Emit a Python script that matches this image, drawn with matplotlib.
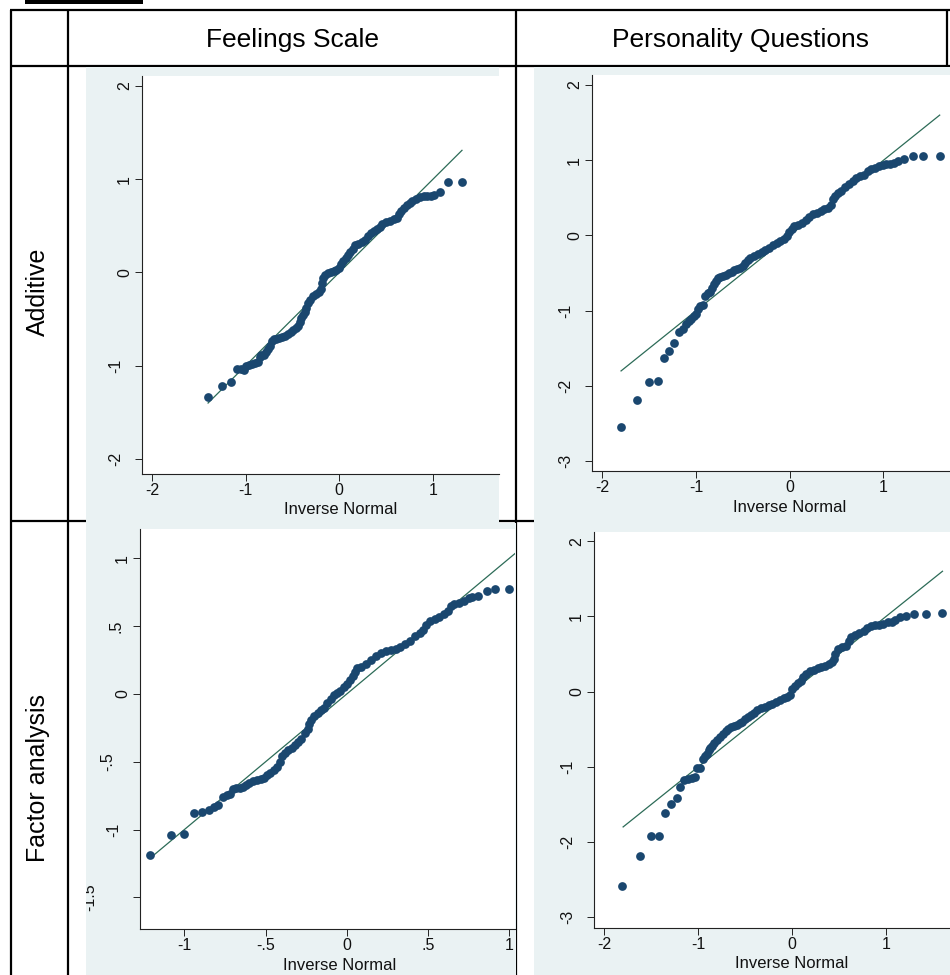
import numpy as np
import matplotlib.pyplot as plt
from matplotlib.patches import Rectangle

plt.rcParams['font.family'] = ['Liberation Sans', 'DejaVu Sans']

W, H = 950, 975
BG = '#EAF2F3'
NAVY = '#1A476F'
FIT = '#2C6B57'
AXC = '#222222'

#%% Data
col_titles = ["Feelings Scale", "Personality Questions"]
row_titles = ["Additive", "Factor analysis"]

# Additive / Feelings Scale (inverse normal vs. score)
add_feel_x = [-1.40, -1.25, -1.15, -1.09, -1.05, -1.02, -0.99, -0.96, -0.93, -0.90, -0.87, -0.85, -0.83,
              -0.80, -0.78, -0.76, -0.74, -0.72, -0.70, -0.67, -0.64, -0.61, -0.58, -0.55, -0.52, -0.49,
              -0.46, -0.44, -0.42, -0.41, -0.39, -0.37, -0.35, -0.33, -0.31, -0.28, -0.25, -0.22, -0.20,
              -0.18, -0.17, -0.15, -0.12, -0.09, -0.06, -0.03, 0.00, 0.02, 0.04, 0.07, 0.09, 0.12, 0.15,
              0.17, 0.20, 0.24, 0.28, 0.31, 0.34, 0.37, 0.40, 0.43, 0.46, 0.50, 0.54, 0.58, 0.62, 0.64,
              0.66, 0.69, 0.72, 0.75, 0.78, 0.82, 0.86, 0.90, 0.94, 0.98, 1.01, 1.07, 1.16, 1.31]
add_feel_y = [-1.34, -1.22, -1.175, -1.04, -1.04, -1.05, -1.00, -0.99, -0.98, -0.975, -0.96, -0.91, -0.89,
              -0.88, -0.85, -0.82, -0.79, -0.73, -0.71, -0.71, -0.70, -0.69, -0.68, -0.66, -0.64, -0.62,
              -0.60, -0.57, -0.53, -0.49, -0.46, -0.42, -0.38, -0.33, -0.29, -0.25, -0.23, -0.21, -0.18,
              -0.11, -0.06, -0.03, -0.01, 0.00, 0.02, 0.03, 0.05, 0.09, 0.12, 0.16, 0.19, 0.22, 0.25,
              0.29, 0.31, 0.33, 0.35, 0.39, 0.42, 0.45, 0.47, 0.49, 0.52, 0.54, 0.55, 0.57, 0.58, 0.63,
              0.66, 0.69, 0.72, 0.75, 0.77, 0.79, 0.81, 0.815, 0.82, 0.825, 0.83, 0.86, 0.97, 0.975]
add_feel_fit = [-1.40, 1.31]

# Additive / Personality Questions
add_pers_x = [-1.80, -1.63, -1.50, -1.41, -1.34, -1.29, -1.23, -1.18, -1.14, -1.11, -1.08, -1.05, -1.02,
              -1.00, -0.98, -0.96, -0.93, -0.90, -0.87, -0.85, -0.83, -0.81, -0.79, -0.77, -0.74, -0.71,
              -0.68, -0.65, -0.62, -0.59, -0.56, -0.53, -0.50, -0.48, -0.45, -0.42, -0.38, -0.34, -0.30,
              -0.26, -0.22, -0.18, -0.14, -0.10, -0.06, -0.03, -0.01, 0.02, 0.05, 0.09, 0.13, 0.17, 0.21,
              0.25, 0.29, 0.33, 0.37, 0.41, 0.44, 0.46, 0.48, 0.51, 0.55, 0.59, 0.63, 0.67, 0.71, 0.75,
              0.79, 0.83, 0.87, 0.91, 0.95, 0.99, 1.03, 1.07, 1.11, 1.15, 1.22, 1.31, 1.42, 1.60]
add_pers_y = [-2.55, -2.18, -1.95, -1.93, -1.63, -1.53, -1.43, -1.28, -1.24, -1.17, -1.13, -1.11, -1.07,
              -1.04, -0.98, -0.94, -0.92, -0.80, -0.77, -0.75, -0.70, -0.65, -0.60, -0.57, -0.55, -0.54,
              -0.52, -0.50, -0.48, -0.46, -0.44, -0.43, -0.40, -0.36, -0.33, -0.30, -0.27, -0.25, -0.22,
              -0.19, -0.16, -0.13, -0.10, -0.07, -0.04, -0.01, 0.04, 0.08, 0.12, 0.14, 0.16, 0.21, 0.25,
              0.28, 0.30, 0.32, 0.35, 0.37, 0.40, 0.48, 0.53, 0.56, 0.59, 0.64, 0.69, 0.73, 0.77, 0.79,
              0.80, 0.86, 0.88, 0.90, 0.92, 0.935, 0.945, 0.955, 0.97, 0.99, 1.015, 1.05, 1.05, 1.06]
add_pers_fit = [-1.80, 1.60]

# Factor analysis / Feelings Scale
fac_feel_x = [-1.21, -1.08, -1.00, -0.94, -0.89, -0.85, -0.82, -0.79, -0.76, -0.74, -0.72, -0.70, -0.68,
              -0.66, -0.64, -0.62, -0.60, -0.58, -0.55, -0.53, -0.51, -0.49, -0.47, -0.45, -0.43, -0.41,
              -0.40, -0.38, -0.36, -0.34, -0.32, -0.30, -0.28, -0.26, -0.24, -0.23, -0.22, -0.20, -0.18,
              -0.16, -0.14, -0.12, -0.10, -0.08, -0.06, -0.04, -0.02, 0.00, 0.02, 0.04, 0.05, 0.06, 0.09,
              0.12, 0.15, 0.18, 0.21, 0.24, 0.27, 0.30, 0.33, 0.36, 0.39, 0.42, 0.45, 0.47, 0.49, 0.51,
              0.54, 0.57, 0.60, 0.62, 0.64, 0.66, 0.69, 0.72, 0.75, 0.77, 0.81, 0.86, 0.91, 1.00]
fac_feel_y = [-1.19, -1.04, -1.03, -0.88, -0.87, -0.855, -0.83, -0.82, -0.76, -0.745, -0.735, -0.70, -0.695,
              -0.69, -0.685, -0.67, -0.658, -0.645, -0.634, -0.627, -0.62, -0.60, -0.585, -0.56, -0.535, -0.50,
              -0.46, -0.435, -0.415, -0.395, -0.376, -0.355, -0.335, -0.29, -0.26, -0.22, -0.19, -0.16, -0.14,
              -0.12, -0.10, -0.07, -0.04, -0.01, 0.01, 0.025, 0.05, 0.07, 0.10, 0.13, 0.16, 0.19, 0.20,
              0.22, 0.25, 0.28, 0.30, 0.315, 0.324, 0.33, 0.345, 0.365, 0.39, 0.425, 0.45, 0.47, 0.51, 0.535,
              0.55, 0.57, 0.59, 0.61, 0.645, 0.66, 0.67, 0.685, 0.705, 0.715, 0.72, 0.76, 0.77, 0.776]
fac_feel_fit = [-1.21, 1.30]

# Factor analysis / Personality Questions
fac_pers_x = [-1.81, -1.62, -1.50, -1.42, -1.35, -1.29, -1.23, -1.19, -1.15, -1.11, -1.07, -1.04, -1.01,
              -0.98, -0.95, -0.93, -0.91, -0.89, -0.87, -0.85, -0.83, -0.80, -0.77, -0.74, -0.71, -0.68,
              -0.65, -0.62, -0.59, -0.56, -0.53, -0.50, -0.47, -0.44, -0.41, -0.37, -0.33, -0.29, -0.25,
              -0.21, -0.17, -0.13, -0.09, -0.05, -0.02, 0.00, 0.03, 0.06, 0.09, 0.12, 0.15, 0.19, 0.23,
              0.27, 0.31, 0.35, 0.39, 0.42, 0.44, 0.46, 0.49, 0.53, 0.57, 0.60, 0.63, 0.67, 0.71, 0.76,
              0.80, 0.84, 0.88, 0.92, 0.97, 1.02, 1.06, 1.09, 1.15, 1.21, 1.30, 1.42, 1.60]
fac_pers_y = [-2.59, -2.18, -1.92, -1.92, -1.61, -1.50, -1.42, -1.27, -1.18, -1.16, -1.15, -1.13, -1.02,
              -1.01, -0.90, -0.86, -0.83, -0.78, -0.75, -0.72, -0.68, -0.64, -0.60, -0.56, -0.53, -0.50,
              -0.47, -0.46, -0.44, -0.42, -0.40, -0.37, -0.34, -0.31, -0.29, -0.25, -0.22, -0.20, -0.18,
              -0.16, -0.14, -0.11, -0.09, -0.07, -0.05, 0.04, 0.08, 0.11, 0.14, 0.20, 0.24, 0.27, 0.29,
              0.31, 0.33, 0.34, 0.37, 0.39, 0.43, 0.50, 0.56, 0.59, 0.61, 0.67, 0.72, 0.75, 0.78, 0.81,
              0.84, 0.87, 0.88, 0.89, 0.90, 0.92, 0.93, 0.95, 0.99, 1.01, 1.03, 1.03, 1.04]
fac_pers_fit = [-1.80, 1.60]

# tick values and labels
ticks_int_x = [-2, -1, 0, 1]
ticks_int_x_lbl = ["-2", "-1", "0", "1"]
ticks_p1_y = [-2, -1, 0, 1, 2]
ticks_p1_y_lbl = ["-2", "-1", "0", "1", "2"]
ticks_pers_y = [-3, -2, -1, 0, 1, 2]
ticks_pers_y_lbl = ["-3", "-2", "-1", "0", "1", "2"]
ticks_p3_x = [-1, -0.5, 0, 0.5, 1]
ticks_p3_x_lbl = ["-1", "-.5", "0", ".5", "1"]
ticks_p3_y = [-1.5, -1, -0.5, 0, 0.5, 1]
ticks_p3_y_lbl = ["-1.5", "-1", "-.5", "0", ".5", "1"]


#%% Helpers
def fig_rect(x0, y0, x1, y1):
    """Pixel box (top-left origin) to figure fraction."""
    return [x0 / W, 1 - y1 / H, (x1 - x0) / W, (y1 - y0) / H]


def ylabel_shift(s):
    # stata pushes longer rotated labels further away from the axis
    ndig = sum(c.isdigit() for c in s)
    return 9 * s.count('-') + 6 * s.count('.') + 18 * max(0, ndig - 1)


def qq_panel(bg_box, plot_box, x, y, fit, xlim, ylim, xt, xtl, yt, ytl, xlab_frac):
    bg = fig.add_axes(fig_rect(*bg_box), facecolor=BG)
    bg.set_xticks([])
    bg.set_yticks([])
    for s in bg.spines.values():
        s.set_visible(False)

    ax = fig.add_axes(fig_rect(*plot_box), facecolor='white')
    ax.plot(fit, fit, color=FIT, lw=0.9, zorder=2)
    ax.plot(x, y, 'o', color=NAVY, ms=6.3, mew=0, zorder=3)
    ax.set_xlim(xlim)
    ax.set_ylim(ylim)
    ax.spines[['top', 'right']].set_visible(False)
    for s in ['left', 'bottom']:
        ax.spines[s].set_linewidth(0.8)
        ax.spines[s].set_color(AXC)
    ax.set_xticks(xt, xtl, fontsize=11.5)
    ax.set_yticks(yt, [])
    ax.tick_params(length=4.8, width=0.7, pad=2, color=AXC, labelcolor='#111111')

    for v, s in zip(yt, ytl):
        t = ax.annotate(s, xy=(0, v), xycoords=('axes fraction', 'data'),
                        xytext=(-(10 + ylabel_shift(s)) * 0.72, 0), textcoords='offset points',
                        rotation=90, ha='right', va='center', fontsize=11.5, color='#111111',
                        annotation_clip=False)
        t.set_clip_box(bg.bbox)
        t.set_clip_on(True)

    ax.annotate("Inverse Normal", xy=(xlab_frac, 0), xycoords='axes fraction',
                xytext=(0, -36 * 0.72), textcoords='offset points',
                ha='center', va='center', fontsize=12, color='#111111')
    return ax


#%% Figure
fig = plt.figure(figsize=(W / 100, H / 100), dpi=100)

# table grid underneath the graphs
base = fig.add_axes([0, 0, 1, 1])
base.set_xlim(0, W)
base.set_ylim(H, 0)
base.axis('off')
for yy in [10, 66, 521]:
    base.plot([10, W], [yy, yy], color='black', lw=1.6, solid_capstyle='butt')
for xx in [11, 68, 516, 947]:
    base.plot([xx, xx], [10, H], color='black', lw=1.6, solid_capstyle='butt')
base.add_patch(Rectangle((25, 0), 118, 3.5, color='black', lw=0))

base.text(292, 40, col_titles[0], ha='center', va='center', fontsize=19)
base.text(740, 40, col_titles[1], ha='center', va='center', fontsize=19)
base.text(38, 292, row_titles[0], ha='center', va='center', rotation=90, fontsize=18)
base.text(38, 778, row_titles[1], ha='center', va='center', rotation=90, fontsize=18)

qq_panel((86, 67, 499, 530), (142, 76, 499, 474), add_feel_x, add_feel_y, add_feel_fit,
         (-2.105, 1.705), (-2.161, 2.107), ticks_int_x, ticks_int_x_lbl,
         ticks_p1_y, ticks_p1_y_lbl, 0.555)
qq_panel((534, 67, 950, 521), (592, 75, 950, 471), add_pers_x, add_pers_y, add_pers_fit,
         (-2.11, 1.71), (-3.13, 2.133), ticks_int_x, ticks_int_x_lbl,
         ticks_pers_y, ticks_pers_y_lbl, 0.553)
qq_panel((86, 523, 516, 975), (140, 529, 515, 929), fac_feel_x, fac_feel_y, fac_feel_fit,
         (-1.273, 1.035), (-1.733, 1.216), ticks_p3_x, ticks_p3_x_lbl,
         ticks_p3_y, ticks_p3_y_lbl, 0.533)
qq_panel((534, 521, 950, 975), (594, 532, 950, 928), fac_pers_x, fac_pers_y, fac_pers_fit,
         (-2.11, 1.68), (-3.144, 2.122), ticks_int_x, ticks_int_x_lbl,
         ticks_pers_y, ticks_pers_y_lbl, 0.556)

fig.savefig('out.png', dpi=100)
